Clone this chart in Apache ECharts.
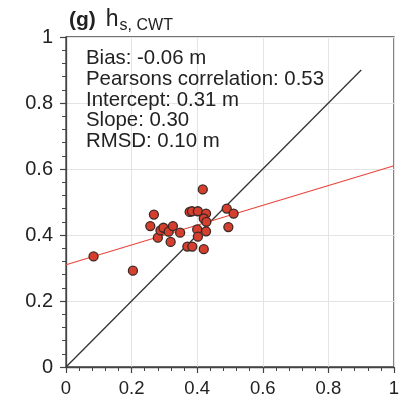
<!DOCTYPE html>
<html>
<head>
<meta charset="utf-8">
<script src="https://cdn.jsdelivr.net/npm/echarts@6/dist/echarts.min.js"></script>
<style>
html,body{margin:0;padding:0;background:#fff;}
#chart{width:411px;height:398px;}
</style>
</head>
<body>
<div id="chart"></div>
<script>
// Observed (x) vs modelled (y) values
const xValues = [0.084, 0.204, 0.268, 0.257, 0.280, 0.288, 0.297, 0.313, 0.319, 0.326, 0.348, 0.370, 0.385, 0.377, 0.384, 0.402, 0.400, 0.402, 0.417, 0.420, 0.427, 0.420, 0.428, 0.427, 0.490, 0.511, 0.495];
const yValues = [0.335, 0.292, 0.462, 0.427, 0.392, 0.414, 0.422, 0.410, 0.379, 0.427, 0.407, 0.365, 0.365, 0.470, 0.472, 0.472, 0.417, 0.395, 0.538, 0.357, 0.465, 0.450, 0.440, 0.411, 0.480, 0.465, 0.424];
const fitIntercept = 0.31;
const fitSlope = 0.30;
const oneToOneEnd = 0.9;
const axisTicks = [0, 0.2, 0.4, 0.6, 0.8, 1];
const statsLines = ['Bias: -0.06 m', 'Pearsons correlation: 0.53', 'Intercept: 0.31 m', 'Slope: 0.30', 'RMSD: 0.10 m'];

const points = xValues.map((x, i) => [x, yValues[i]]);
const xEnd = axisTicks[axisTicks.length - 1];
const fitLine = [[axisTicks[0], fitIntercept], [xEnd, fitIntercept + fitSlope * xEnd]];
const oneToOne = [[0, 0], [oneToOneEnd, oneToOneEnd]];

const font = 'Liberation Sans, Arial, sans-serif';
const fmt = v => (v === 0 || v === 1) ? String(v) : v.toFixed(1);

function axis(labelSize, margin) {
  return {
    type: 'value',
    min: 0, max: 1, interval: 0.2,
    axisLine: { show: true, onZero: false, lineStyle: { color: '#444', width: 1.3 } },
    axisTick: { show: true, inside: false, length: 6, lineStyle: { color: '#444', width: 1.2 } },
    minorTick: { show: true, splitNumber: 5, length: 4, lineStyle: { color: '#444', width: 1 } },
    splitLine: { show: true, lineStyle: { color: '#e4e4e4', width: 1 } },
    axisLabel: { color: '#222', fontSize: labelSize, fontFamily: font, formatter: fmt, margin: margin }
  };
}

const chart = echarts.init(document.getElementById('chart'), null, { renderer: 'canvas' });
chart.setOption({
  animation: false,
  backgroundColor: '#fff',
  grid: { left: 66, right: 17, top: 37, bottom: 29, show: true, borderColor: '#444', borderWidth: 1.3, backgroundColor: 'transparent' },
  title: {
    text: '{b|(g)}  {n|h}{s|s, CWT}',
    left: 64, top: 1,
    textStyle: {
      fontWeight: 'normal',
      rich: {
        b: { fontSize: 21, fontWeight: 'bold', color: '#222', fontFamily: font },
        n: { fontSize: 23, fontWeight: 'normal', color: '#222', fontFamily: font },
        s: { fontSize: 16, fontWeight: 'normal', color: '#222', fontFamily: font, padding: [12, 0, 0, 1] }
      }
    }
  },
  graphic: [{
    type: 'text', left: 86, top: 48, z: 10,
    style: { text: statsLines.join('\n'), fontSize: 20.4, lineHeight: 20.8, fontFamily: font, fill: '#222' }
  }],
  xAxis: axis(18.5, 12),
  yAxis: axis(20, 13),
  series: [
    {
      type: 'line', data: oneToOne, symbol: 'none', silent: true, z: 2,
      lineStyle: { color: '#333', width: 1.3 }
    },
    {
      type: 'line', data: fitLine, symbol: 'none', silent: true, z: 3,
      lineStyle: { color: '#e8453c', width: 1.1 }
    },
    {
      type: 'scatter', data: points, symbol: 'circle', symbolSize: 9, z: 5,
      itemStyle: { color: '#d63e2d', borderColor: '#3a2a26', borderWidth: 1.3, opacity: 1 }
    }
  ]
});
</script>
</body>
</html>
